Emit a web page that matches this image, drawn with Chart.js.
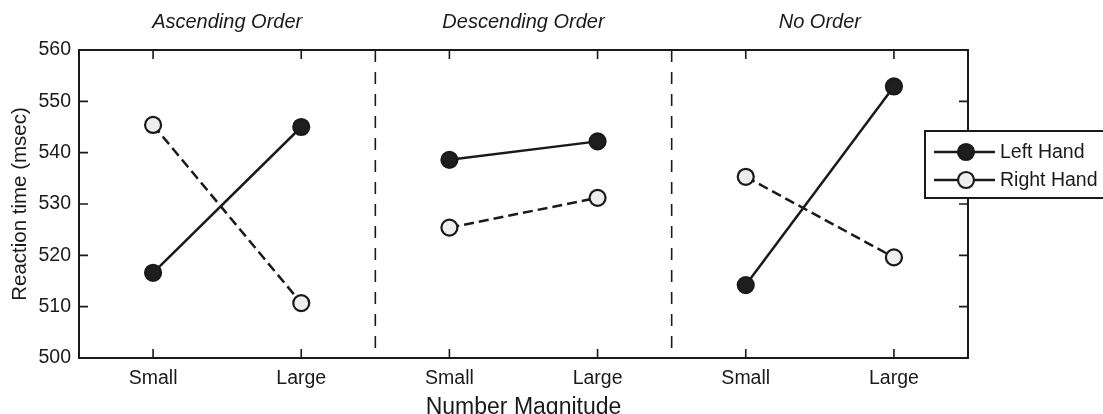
<!DOCTYPE html>
<html>
<head>
<meta charset="utf-8">
<script src="https://cdn.jsdelivr.net/npm/chart.js@4/dist/chart.umd.min.js"></script>
<style>
  body { margin: 0; background: #fff; }
  #wrap { width: 1103px; height: 414px; position: relative; }
</style>
</head>
<body>
<div id="wrap"><canvas id="rtChart"></canvas></div>
<script>
// Data
const panels = ['Ascending Order', 'Descending Order', 'No Order'];
const magnitudes = ['Small', 'Large'];
const leftHand = [516.6, 545.0, 538.6, 542.2, 514.2, 552.9];   // filled
const rightHand = [545.4, 510.7, 525.4, 531.2, 535.3, 519.6];  // open
const seriesNames = ['Left Hand', 'Right Hand'];
const yMin = 500, yMax = 560, yStep = 10;

const FONT = '"Liberation Sans", Arial, Helvetica, sans-serif';
const INK = '#1a1a1a';

// x position of each point: panel i, magnitude j
const xPos = [];
panels.forEach((p, i) => magnitudes.forEach((m, j) => xPos.push(i * 2 + j + 0.5)));

const styles = [
  { fill: '#1e1e1e', dash: [] },
  { fill: '#eeeeee', dash: [10, 5] }
];

const datasets = [];
[leftHand, rightHand].forEach((vals, s) => {
  panels.forEach((p, i) => {
    datasets.push({
      label: seriesNames[s],
      data: [0, 1].map(j => ({ x: xPos[i * 2 + j], y: vals[i * 2 + j] })),
      borderColor: INK,
      borderWidth: 2.5,
      borderDash: styles[s].dash,
      pointRadius: 8,
      pointHoverRadius: 8,
      pointBorderWidth: 2.2,
      pointBorderColor: INK,
      pointBackgroundColor: styles[s].fill,
      fill: false,
      clip: false
    });
  });
});

// Frame, inward ticks, separators, panel titles and legend
const decorPlugin = {
  id: 'decor',
  beforeDatasetsDraw(chart) {
    const { ctx, chartArea: a, scales } = chart;
    ctx.save();
    ctx.strokeStyle = INK;
    ctx.lineWidth = 1.6;
    ctx.setLineDash([12, 10]);
    for (let i = 1; i < panels.length; i++) {
      const x = scales.x.getPixelForValue(i * 2);
      ctx.beginPath();
      ctx.moveTo(x, a.top);
      ctx.lineTo(x, a.bottom);
      ctx.stroke();
    }
    ctx.restore();
  },
  afterDraw(chart) {
    const { ctx, chartArea: a, scales } = chart;
    ctx.save();
    ctx.strokeStyle = INK;
    ctx.lineWidth = 2;
    ctx.strokeRect(a.left, a.top, a.right - a.left, a.bottom - a.top);

    const tl = 9;
    ctx.lineWidth = 1.6;
    ctx.beginPath();
    xPos.forEach(v => {
      const x = scales.x.getPixelForValue(v);
      ctx.moveTo(x, a.bottom); ctx.lineTo(x, a.bottom - tl);
      ctx.moveTo(x, a.top); ctx.lineTo(x, a.top + tl);
    });
    for (let v = yMin + yStep; v < yMax; v += yStep) {
      const y = scales.y.getPixelForValue(v);
      ctx.moveTo(a.left, y); ctx.lineTo(a.left + tl, y);
      ctx.moveTo(a.right, y); ctx.lineTo(a.right - tl, y);
    }
    ctx.stroke();

    // panel titles
    ctx.fillStyle = INK;
    ctx.font = 'italic 20px ' + FONT;
    ctx.textAlign = 'center';
    ctx.textBaseline = 'alphabetic';
    panels.forEach((p, i) => {
      const x = (scales.x.getPixelForValue(i * 2) + scales.x.getPixelForValue(i * 2 + 2)) / 2;
      ctx.fillText(p, x, a.top - 22);
    });

    // legend
    const bx = a.right - 43, by = a.top + 81, bw = 200, bh = 67;
    ctx.fillStyle = '#fff';
    ctx.fillRect(bx, by, bw, bh);
    ctx.lineWidth = 2;
    ctx.strokeRect(bx, by, bw, bh);
    ctx.font = '19.5px ' + FONT;
    ctx.textAlign = 'left';
    ctx.textBaseline = 'middle';
    seriesNames.forEach((name, s) => {
      const y = by + 21 + s * 28;
      ctx.strokeStyle = INK;
      ctx.lineWidth = 2.5;
      ctx.beginPath();
      ctx.moveTo(bx + 9, y); ctx.lineTo(bx + 70, y);
      ctx.stroke();
      ctx.beginPath();
      ctx.arc(bx + 41, y, 8, 0, Math.PI * 2);
      ctx.fillStyle = styles[s].fill;
      ctx.fill();
      ctx.lineWidth = 2.2;
      ctx.stroke();
      ctx.fillStyle = INK;
      ctx.fillText(name, bx + 75, y + 1);
    });
    ctx.restore();
  }
};

new Chart(document.getElementById('rtChart'), {
  type: 'line',
  data: { datasets },
  plugins: [decorPlugin],
  options: {
    responsive: true,
    maintainAspectRatio: false,
    animation: false,
    layout: { padding: { top: 50, right: 135, bottom: 0, left: 0 } },
    plugins: { legend: { display: false }, tooltip: { enabled: false } },
    scales: {
      x: {
        type: 'linear',
        min: 0,
        max: panels.length * 2,
        grid: { display: false, drawTicks: false },
        border: { display: false },
        afterBuildTicks: scale => { scale.ticks = xPos.map(v => ({ value: v })); },
        afterFit: scale => { scale.height = 56; },
        ticks: {
          padding: 9,
          color: INK,
          font: { family: FONT, size: 19.5 },
          maxRotation: 0,
          autoSkip: false,
          callback: v => magnitudes[Math.round(v - 0.5) % magnitudes.length]
        },
        title: {
          display: true,
          text: 'Number Magnitude',
          color: INK,
          font: { family: FONT, size: 23, lineHeight: 1 },
          padding: { top: 0, bottom: -5 }
        }
      },
      y: {
        min: yMin,
        max: yMax,
        grid: { display: false, drawTicks: false },
        border: { display: false },
        afterFit: scale => { scale.width = 79; },
        ticks: {
          stepSize: yStep,
          padding: 8,
          color: INK,
          font: { family: FONT, size: 19.5 }
        },
        title: {
          display: true,
          text: 'Reaction time (msec)',
          color: INK,
          font: { family: FONT, size: 20.5 },
          padding: { top: 8, bottom: 0 }
        }
      }
    }
  }
});
</script>
</body>
</html>
